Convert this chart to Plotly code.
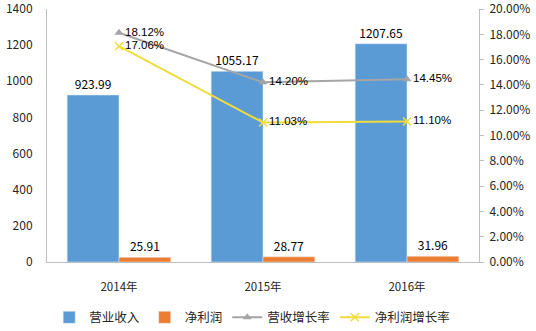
import plotly.graph_objects as go

years = ["2014年", "2015年", "2016年"]
revenue = [923.99, 1055.17, 1207.65]
profit = [25.91, 28.77, 31.96]
rev_growth = [0.1812, 0.1420, 0.1445]
profit_growth = [0.1706, 0.1103, 0.1110]

FONT = "Noto Sans CJK SC, Noto Sans, sans-serif"
NUMFONT = "Liberation Sans, Arial, sans-serif"
TXT = "#262626"

fig = go.Figure()
fig.add_trace(go.Bar(
    x=years, y=revenue, name="营业收入", marker_color="#5B9BD5",
    texttemplate="%{y:.2f}", textposition="outside",
    textfont=dict(size=12, color="#000000", family=FONT), cliponaxis=False,
))
fig.add_trace(go.Bar(
    x=years, y=profit, name="净利润", marker_color="#ED7D31",
    texttemplate="%{y:.2f}", textposition="outside",
    textfont=dict(size=12, color="#000000", family=FONT), cliponaxis=False,
))
fig.add_trace(go.Scatter(
    x=years, y=rev_growth, name="营收增长率", yaxis="y2",
    mode="lines+markers+text", line=dict(color="#A5A5A5", width=2),
    marker=dict(symbol="triangle-up", size=8, color="#A5A5A5"),
    text=[f"{v*100:.2f}%" for v in rev_growth], textposition="middle right",
    textfont=dict(size=11.5, color="#000000", family=NUMFONT), cliponaxis=False,
))
fig.add_trace(go.Scatter(
    x=years, y=profit_growth, name="净利润增长率", yaxis="y2",
    mode="lines+markers+text", line=dict(color="#F0DC3C", width=2),
    marker=dict(symbol="x-thin", size=8, color="#F0DC3C", line=dict(width=1.5, color="#F0DC3C")),
    text=[f"{v*100:.2f}%" for v in profit_growth], textposition="middle right",
    textfont=dict(size=11.5, color="#000000", family=NUMFONT), cliponaxis=False,
))

fig.update_layout(
    width=536, height=331,
    margin=dict(l=47, r=57, t=9, b=69, autoexpand=False),
    paper_bgcolor="white", plot_bgcolor="white",
    font=dict(family=FONT, size=12, color=TXT),
    barmode="group", bargap=0.28, bargroupgap=0,
    showlegend=True,
    legend=dict(orientation="h", x=0.475, xanchor="center", y=-0.22, yanchor="middle",
                font=dict(size=12.5, color=TXT), traceorder="normal"),
    xaxis=dict(range=[-0.5, 2.5], showline=True, linecolor="#BFBFBF", linewidth=1,
               showgrid=False, ticks="", ticklabelstandoff=14, automargin=False,
               tickfont=dict(size=11.5, color=TXT)),
    yaxis=dict(range=[0, 1400], dtick=200, showline=True, linecolor="#BFBFBF",
               showgrid=False, zeroline=False, ticks="", ticklabelstandoff=11,
               ticklabeloverflow="allow", automargin=False,
               tickfont=dict(size=12, color=TXT)),
    yaxis2=dict(range=[0, 0.2], dtick=0.02, tickformat=".2%", overlaying="y", side="right",
                showline=True, linecolor="#BFBFBF", showgrid=False, zeroline=False,
                ticks="outside", ticklen=4, tickcolor="#BFBFBF", ticklabelstandoff=3,
                ticklabeloverflow="allow", automargin=False,
                tickfont=dict(size=12, color=TXT)),
)

fig.write_html("out.html")
